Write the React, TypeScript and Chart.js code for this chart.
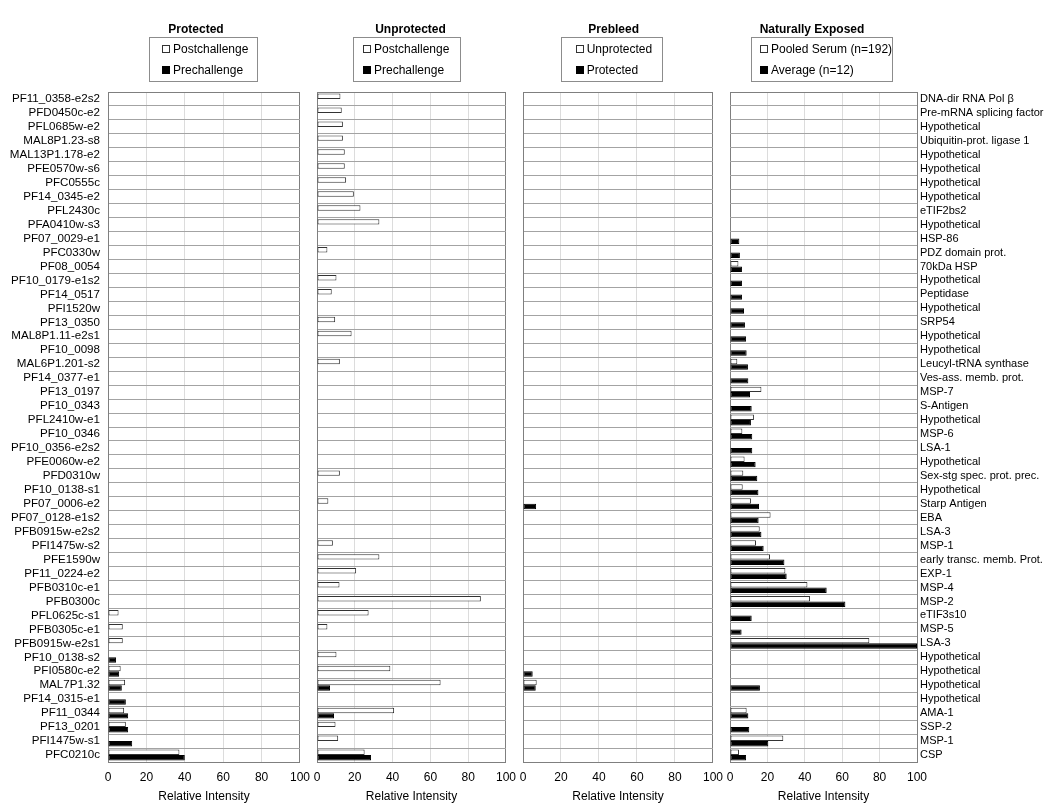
import React, { useEffect, useRef } from 'react';
import { Chart, registerables } from 'chart.js';

Chart.register(...registerables);

const FONT = '"Liberation Sans", Arial, Helvetica, sans-serif';

// ---------- DATA ----------
const geneIds = [
  'PF11_0358-e2s2', 'PFD0450c-e2', 'PFL0685w-e2', 'MAL8P1.23-s8', 'MAL13P1.178-e2', 'PFE0570w-s6',
  'PFC0555c', 'PF14_0345-e2', 'PFL2430c', 'PFA0410w-s3', 'PF07_0029-e1', 'PFC0330w',
  'PF08_0054', 'PF10_0179-e1s2', 'PF14_0517', 'PFI1520w', 'PF13_0350', 'MAL8P1.11-e2s1',
  'PF10_0098', 'MAL6P1.201-s2', 'PF14_0377-e1', 'PF13_0197', 'PF10_0343', 'PFL2410w-e1',
  'PF10_0346', 'PF10_0356-e2s2', 'PFE0060w-e2', 'PFD0310w', 'PF10_0138-s1', 'PF07_0006-e2',
  'PF07_0128-e1s2', 'PFB0915w-e2s2', 'PFI1475w-s2', 'PFE1590w', 'PF11_0224-e2', 'PFB0310c-e1',
  'PFB0300c', 'PFL0625c-s1', 'PFB0305c-e1', 'PFB0915w-e2s1', 'PF10_0138-s2', 'PFI0580c-e2',
  'MAL7P1.32', 'PF14_0315-e1', 'PF11_0344', 'PF13_0201', 'PFI1475w-s1', 'PFC0210c',
];

const proteinNames = [
  'DNA-dir RNA Pol β', 'Pre-mRNA splicing factor', 'Hypothetical', 'Ubiquitin-prot. ligase 1',
  'Hypothetical', 'Hypothetical', 'Hypothetical', 'Hypothetical', 'eTIF2bs2', 'Hypothetical',
  'HSP-86', 'PDZ domain prot.', '70kDa HSP', 'Hypothetical', 'Peptidase', 'Hypothetical',
  'SRP54', 'Hypothetical', 'Hypothetical', 'Leucyl-tRNA synthase', 'Ves-ass. memb. prot.',
  'MSP-7', 'S-Antigen', 'Hypothetical', 'MSP-6', 'LSA-1', 'Hypothetical',
  'Sex-stg spec. prot. prec.', 'Hypothetical', 'Starp Antigen', 'EBA', 'LSA-3', 'MSP-1',
  'early transc. memb. Prot.', 'EXP-1', 'MSP-4', 'MSP-2', 'eTIF3s10', 'MSP-5', 'LSA-3',
  'Hypothetical', 'Hypothetical', 'Hypothetical', 'Hypothetical', 'AMA-1', 'SSP-2', 'MSP-1', 'CSP',
];

const xTicks = [0, 20, 40, 60, 80, 100];

// Protected
const protectedPost = [
  null, null, null, null, null, null, null, null,
  null, null, null, null, null, null, null, null,
  null, null, null, null, null, null, null, null,
  null, null, null, null, null, null, null, null,
  null, null, null, null, null, 5.5, 7.7, 7.7,
  null, 6.6, 8.9, null, 8.4, 9.3, null, 37.2,
];
const protectedPre = [
  null, null, null, null, null, null, null, null,
  null, null, null, null, null, null, null, null,
  null, null, null, null, null, null, null, null,
  null, null, null, null, null, null, null, null,
  null, null, null, null, null, null, null, null,
  4.2, 5.8, 7.2, 9.3, 10.5, 10.5, 12.6, 40,
];

// Unprotected
const unprotectedPost = [
  12.4, 13.1, 13.7, 13.7, 14.7, 14.7, 15.4, 19.5,
  23, 33, null, 5.5, null, 10.3, 7.8, null,
  9.6, 18.3, null, 12.1, null, null, null, null,
  null, null, null, 12.1, null, 6.0, null, null,
  8.4, 33, 20.7, 11.9, 86.7, 27.3, 5.5, null,
  10.3, 38.8, 65.4, null, 40.8, 9.8, 11.2, 25.2,
];
const unprotectedPre = [
  null, null, null, null, null, null, null, null,
  null, null, null, null, null, null, null, null,
  null, null, null, null, null, null, null, null,
  null, null, null, null, null, null, null, null,
  null, null, null, null, null, null, null, null,
  null, null, 6.9, null, 9.0, null, null, 28.6,
];

// Prebleed
const prebleedUnprotected = [
  null, null, null, null, null, null, null, null,
  null, null, null, null, null, null, null, null,
  null, null, null, null, null, null, null, null,
  null, null, null, null, null, null, null, null,
  null, null, null, null, null, null, null, null,
  null, null, 7.2, null, null, null, null, null,
];
const prebleedProtected = [
  null, null, null, null, null, null, null, null,
  null, null, null, null, null, null, null, null,
  null, null, null, null, null, null, null, null,
  null, null, null, null, null, 6.9, null, null,
  null, null, null, null, null, null, null, null,
  null, 5.1, 6.7, null, null, null, null, null,
];

// Naturally exposed
const pooledSerum = [
  null, null, null, null, null, null, null, null,
  null, null, null, null, 4.5, null, null, null,
  null, null, null, 3.9, null, 16.8, null, 12.8,
  6.6, null, 7.8, 7.1, 6.8, 11.2, 21.7, 15.9,
  13.9, 21.4, 29.6, 41.4, 42.8, null, null, 74.5,
  null, null, null, null, 8.9, null, 28.5, 4.8,
];
const averageSerum = [
  null, null, null, null, null, null, null, null,
  null, null, 5.0, 5.3, 6.4, 6.4, 6.4, 7.5,
  8.0, 8.6, 8.9, 9.6, 9.8, 10.7, 11.6, 11.2,
  11.9, 11.9, 13.7, 14.6, 15.2, 15.5, 15.3, 16.8,
  18.0, 29.1, 30.3, 51.7, 61.7, 11.6, 6.2, 100,
  null, null, 16.0, null, 9.8, 10.3, 20.5, 8.6,
];

// ---------- STYLE ----------
const EDGE = '#7f7f7f';
const HGRID = '#a3a3a3';
const VGRID = '#dcdcdc';

const headerPlugin = {
  id: 'panelHeader',
  afterDraw(chart: any, _args: any, opts: any) {
    if (!opts || !opts.title) return;
    const ctx = chart.ctx;
    ctx.save();
    ctx.fillStyle = '#000';
    ctx.textBaseline = 'middle';
    ctx.textAlign = 'center';
    ctx.font = `bold 12px ${FONT}`;
    ctx.fillText(opts.title, opts.titleX, 30);
    ctx.strokeStyle = '#8c8c8c';
    ctx.lineWidth = 1;
    ctx.strokeRect(Math.round(opts.boxX) + 0.5, 37.5, opts.boxW, 44);
    ctx.font = `12px ${FONT}`;
    ctx.textAlign = 'left';
    chart.data.datasets.forEach((ds: any, i: number) => {
      const y = 49 + i * 21;
      const mx = Math.round(opts.boxX + opts.markerDx) + 0.5;
      const my = Math.round(y - 4) + 0.5;
      ctx.fillStyle = ds.backgroundColor;
      ctx.fillRect(mx, my, 7, 7);
      ctx.strokeStyle = ds.borderColor;
      ctx.strokeRect(mx, my, 7, 7);
      ctx.fillStyle = '#000';
      ctx.fillText(ds.label, opts.boxX + opts.markerDx + 11, y + 0.5);
    });
    ctx.restore();
  },
};

type PanelProps = {
  left: number;
  width: number;
  labels: string[];
  post: (number | null)[];
  pre: (number | null)[];
  names: [string, string];
  side: 'left' | 'right';
  showLabels: boolean;
  labelSize: number;
  labelPad: number;
  yWidth: number;
  padLeft: number;
  padRight: number;
  header: any;
};

function Panel(p: PanelProps) {
  const ref = useRef<HTMLCanvasElement | null>(null);
  useEffect(() => {
    if (!ref.current) return;
    const chart = new Chart(ref.current, {
      type: 'bar',
      data: {
        labels: p.labels,
        datasets: [
          {
            label: p.names[0],
            data: p.post,
            backgroundColor: '#ffffff',
            borderColor: '#333333',
            borderWidth: 1,
            borderSkipped: false,
            categoryPercentage: 0.78,
            barPercentage: 1,
          } as any,
          {
            label: p.names[1],
            data: p.pre,
            backgroundColor: '#000000',
            borderColor: '#000000',
            borderWidth: 1,
            borderSkipped: false,
            categoryPercentage: 0.78,
            barPercentage: 1,
          } as any,
        ],
      },
      options: {
        indexAxis: 'y',
        responsive: false,
        animation: false,
        devicePixelRatio: 1,
        layout: { padding: { top: 92, bottom: 0, left: p.padLeft, right: p.padRight } },
        plugins: {
          legend: { display: false },
          tooltip: { enabled: false },
          panelHeader: p.header,
        } as any,
        scales: {
          x: {
            type: 'linear',
            min: 0,
            max: 100,
            afterBuildTicks: (s: any) => {
              s.ticks = xTicks.map((v) => ({ value: v }));
            },
            ticks: { color: '#000', font: { size: 12, family: FONT }, padding: 8 },
            grid: {
              color: (c: any) =>
                c.tick && (c.tick.value === 0 || c.tick.value === 100) ? EDGE : VGRID,
              drawTicks: false,
              lineWidth: 1,
            },
            border: { color: EDGE },
            title: {
              display: true,
              text: 'Relative Intensity',
              color: '#000',
              font: { size: 12, family: FONT },
              padding: { top: 0, bottom: 2 },
            },
            afterFit: (s: any) => {
              s.height = 44;
            },
          },
          y: {
            type: 'category',
            position: p.side,
            offset: true,
            grid: {
              offset: true,
              color: (c: any) => (c.type === 'scale' || c.index === 0 ? EDGE : HGRID),
              drawTicks: false,
              lineWidth: 1,
            },
            border: { color: EDGE },
            ticks: {
              display: p.showLabels,
              autoSkip: false,
              color: '#000',
              font: { size: p.labelSize, family: FONT },
              padding: p.labelPad,
            },
            afterFit: (s: any) => {
              s.width = p.yWidth;
            },
          },
        } as any,
      },
      plugins: [headerPlugin as any],
    });
    return () => chart.destroy();
  }, []);
  return (
    <canvas
      ref={ref}
      width={p.width}
      height={806}
      style={{ position: 'absolute', left: p.left, top: 0, width: p.width, height: 806 }}
    />
  );
}

export default function App() {
  return (
    <div
      style={{
        position: 'absolute',
        left: 0,
        top: 0,
        width: 1050,
        height: 806,
        background: '#fff',
        overflow: 'hidden',
      }}
    >
      <Panel
        left={0}
        width={318}
        labels={geneIds}
        post={protectedPost}
        pre={protectedPre}
        names={['Postchallenge', 'Prechallenge']}
        side="left"
        showLabels={true}
        labelSize={11.6}
        labelPad={8}
        yWidth={108}
        padLeft={0}
        padRight={13}
        header={{ title: 'Protected', titleX: 196, boxX: 149, boxW: 108, markerDx: 13 }}
      />
      <Panel
        left={304}
        width={220}
        labels={geneIds}
        post={unprotectedPost}
        pre={unprotectedPre}
        names={['Postchallenge', 'Prechallenge']}
        side="left"
        showLabels={false}
        labelSize={11.6}
        labelPad={8}
        yWidth={13}
        padLeft={0}
        padRight={13}
        header={{ title: 'Unprotected', titleX: 106.5, boxX: 49, boxW: 107, markerDx: 10 }}
      />
      <Panel
        left={510}
        width={221}
        labels={geneIds}
        post={prebleedUnprotected}
        pre={prebleedProtected}
        names={['Unprotected', 'Protected']}
        side="left"
        showLabels={false}
        labelSize={11.6}
        labelPad={8}
        yWidth={13}
        padLeft={0}
        padRight={13}
        header={{ title: 'Prebleed', titleX: 103.7, boxX: 50.7, boxW: 101, markerDx: 15 }}
      />
      <Panel
        left={717}
        width={333}
        labels={proteinNames}
        post={pooledSerum}
        pre={averageSerum}
        names={['Pooled Serum (n=192)', 'Average (n=12)']}
        side="right"
        showLabels={true}
        labelSize={11}
        labelPad={3}
        yWidth={133}
        padLeft={13}
        padRight={0}
        header={{ title: 'Naturally Exposed', titleX: 95, boxX: 33.7, boxW: 141, markerDx: 9.3 }}
      />
    </div>
  );
}
